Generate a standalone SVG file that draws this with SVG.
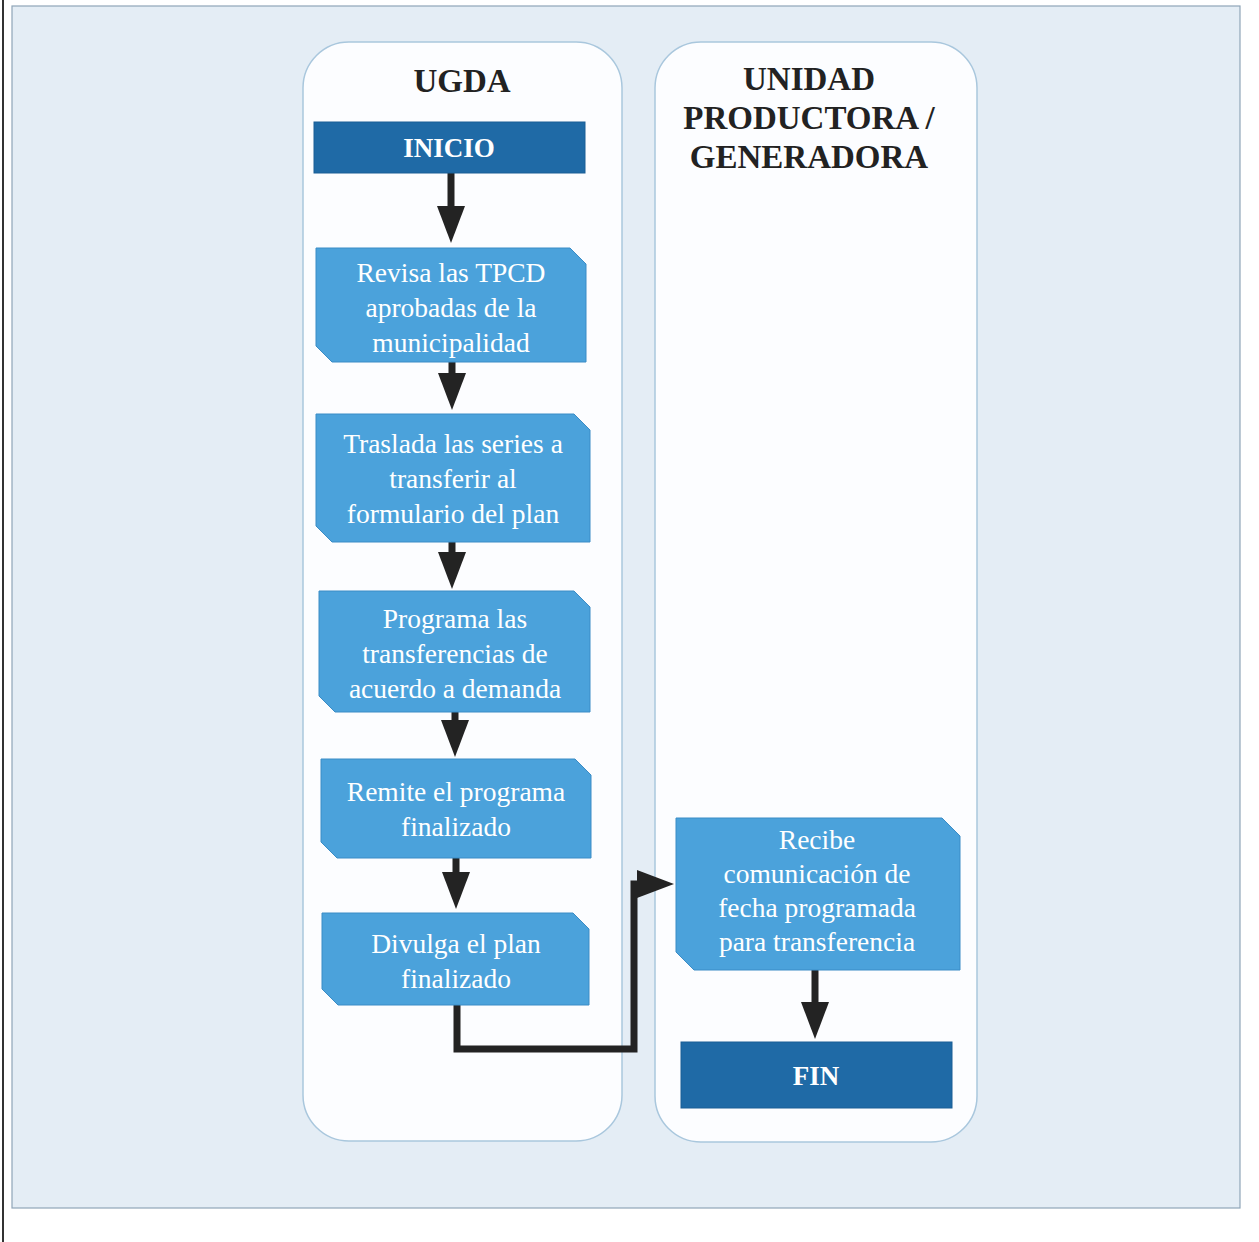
<svg xmlns="http://www.w3.org/2000/svg" width="1259" height="1242" viewBox="0 0 1259 1242">
  <style>
    .lane { fill: #fcfdff; stroke: #a9c7dd; stroke-width: 1.5; }
    .title { font-family: "Liberation Serif", "Times New Roman", serif; font-weight: bold; font-size: 33px; fill: #222; text-anchor: middle; }
    .step { fill: #4ba2db; stroke: #3a8cc6; stroke-width: 1; }
    .term { fill: #1f6aa6; stroke: #1a5f96; stroke-width: 1; }
    .label { font-family: "Liberation Serif", "Times New Roman", serif; font-size: 27.5px; fill: #ffffff; text-anchor: middle; }
    .tlabel { font-family: "Liberation Serif", "Times New Roman", serif; font-weight: bold; font-size: 27px; fill: #ffffff; text-anchor: middle; }
    .flow { fill: none; stroke: #232323; stroke-width: 7; stroke-linejoin: miter; marker-end: url(#head); }
  </style>
  <defs>
    <marker id="head" markerUnits="userSpaceOnUse" markerWidth="38" markerHeight="30" viewBox="0 0 38 30" refX="2" refY="15" orient="auto">
      <path d="M0,1 L37,15 L0,29 Z" fill="#232323"/>
    </marker>
  </defs>

  <!-- page -->
  <rect x="0" y="0" width="1259" height="1242" fill="#ffffff"/>
  <rect x="12" y="6" width="1228" height="1202" fill="#e4edf5" stroke="#8fa5b8" stroke-width="1.2"/>
  <line x1="3" y1="0" x2="3" y2="1242" stroke="#333" stroke-width="2"/>

  <!-- swimlanes -->
  <g id="lane-ugda">
    <rect class="lane" x="303" y="42" width="319" height="1099" rx="46" ry="46"/>
    <text class="title" x="462" y="92">UGDA</text>
  </g>
  <g id="lane-unidad">
    <rect class="lane" x="655" y="42" width="322" height="1100" rx="46" ry="46"/>
    <text class="title" x="809" y="90">UNIDAD</text>
    <text class="title" x="809" y="129">PRODUCTORA /</text>
    <text class="title" x="809" y="168">GENERADORA</text>
  </g>

  <!-- connectors -->
  <g id="connectors">
    <line class="flow" x1="451" y1="173" x2="451" y2="208"/>
    <line class="flow" x1="452" y1="362" x2="452" y2="375"/>
    <line class="flow" x1="452" y1="542" x2="452" y2="554"/>
    <line class="flow" x1="455" y1="712" x2="455" y2="722"/>
    <line class="flow" x1="456" y1="858" x2="456" y2="874"/>
    <path class="flow" d="M457,1005 V1049 H634 V884 H639"/>
    <line class="flow" x1="815" y1="970" x2="815" y2="1004"/>
  </g>

  <!-- nodes -->
  <g id="inicio">
    <rect class="term" x="314" y="122" width="271" height="51"/>
    <text class="tlabel" x="449" y="157">INICIO</text>
  </g>
  <g id="revisa">
    <path class="step" d="M316,248 H570 L586,264 V362 H332 L316,346 Z"/>
    <text class="label" x="451" y="282">Revisa las TPCD</text>
    <text class="label" x="451" y="317">aprobadas de la</text>
    <text class="label" x="451" y="352">municipalidad</text>
  </g>
  <g id="traslada">
    <path class="step" d="M316,414 H574 L590,430 V542 H332 L316,526 Z"/>
    <text class="label" x="453" y="453">Traslada las series a</text>
    <text class="label" x="453" y="488">transferir al</text>
    <text class="label" x="453" y="523">formulario del plan</text>
  </g>
  <g id="programa">
    <path class="step" d="M319,591 H574 L590,607 V712 H335 L319,696 Z"/>
    <text class="label" x="455" y="628">Programa las</text>
    <text class="label" x="455" y="663">transferencias de</text>
    <text class="label" x="455" y="698">acuerdo a demanda</text>
  </g>
  <g id="remite">
    <path class="step" d="M321,759 H575 L591,775 V858 H337 L321,842 Z"/>
    <text class="label" x="456" y="801">Remite el programa</text>
    <text class="label" x="456" y="836">finalizado</text>
  </g>
  <g id="divulga">
    <path class="step" d="M322,913 H573 L589,929 V1005 H338 L322,989 Z"/>
    <text class="label" x="456" y="953">Divulga el plan</text>
    <text class="label" x="456" y="988">finalizado</text>
  </g>
  <g id="recibe">
    <path class="step" d="M676,818 H942 L960,836 V970 H694 L676,952 Z"/>
    <text class="label" x="817" y="849">Recibe</text>
    <text class="label" x="817" y="883">comunicación de</text>
    <text class="label" x="817" y="917">fecha programada</text>
    <text class="label" x="817" y="951">para transferencia</text>
  </g>
  <g id="fin">
    <rect class="term" x="681" y="1042" width="271" height="66"/>
    <text class="tlabel" x="816" y="1085">FIN</text>
  </g>
</svg>
